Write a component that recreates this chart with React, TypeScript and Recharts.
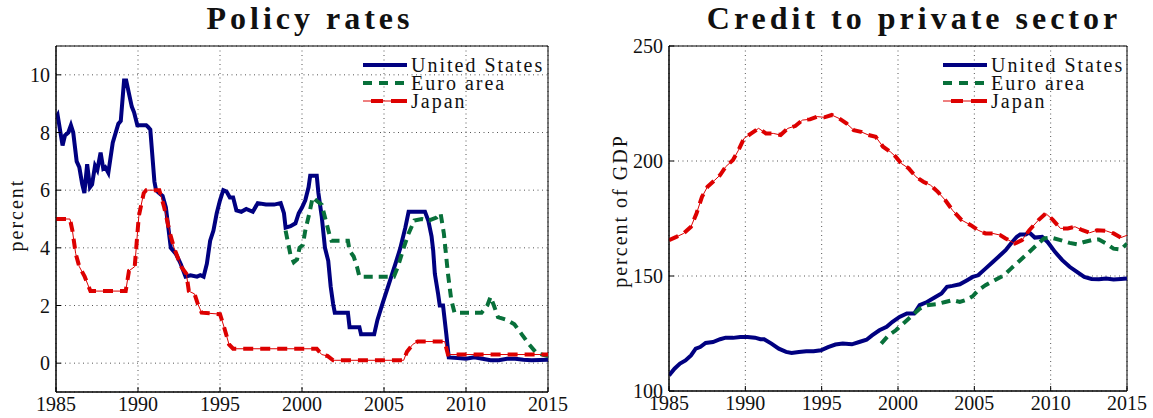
import React from 'react';
import { LineChart, Line, XAxis, YAxis, CartesianGrid, ReferenceArea } from 'recharts';

type Pt = [number, number]; // [year, value]

const yearTicks = [1985, 1990, 1995, 2000, 2005, 2010, 2015];
const rateTicks = [0, 2, 4, 6, 8, 10];
const creditTicks = [100, 150, 200, 250];
const seriesNames = ['United States', 'Euro area', 'Japan'];

// Policy rates, percent
const usRate: Pt[] = [
  [1985.0, 8.5], [1985.1, 8.6], [1985.4, 7.55], [1985.55, 7.9], [1985.75, 8.0], [1985.91, 8.25],
  [1986.05, 8.0], [1986.26, 7.0], [1986.42, 6.8], [1986.6, 6.2], [1986.73, 5.9], [1986.9, 6.9],
  [1987.07, 6.1], [1987.2, 6.2], [1987.38, 6.85], [1987.52, 6.7], [1987.72, 7.3], [1987.88, 6.75],
  [1988.0, 6.8], [1988.19, 6.6], [1988.46, 7.65], [1988.8, 8.3], [1988.95, 8.4], [1989.15, 9.8],
  [1989.28, 9.8], [1989.62, 8.9], [1989.76, 8.7], [1989.96, 8.25], [1990.5, 8.25], [1990.6, 8.2],
  [1990.75, 8.1], [1991.0, 6.3], [1991.1, 6.0], [1991.28, 5.9], [1991.5, 5.8], [1991.7, 5.4],
  [1992.0, 4.0], [1992.3, 3.8], [1992.6, 3.45], [1992.9, 3.0], [1993.2, 3.05], [1993.6, 3.0],
  [1993.8, 3.05], [1994.0, 3.0], [1994.2, 3.45], [1994.4, 4.25], [1994.6, 4.6], [1994.8, 5.2],
  [1995.0, 5.65], [1995.2, 6.0], [1995.4, 5.95], [1995.6, 5.75], [1995.8, 5.75], [1996.0, 5.3],
  [1996.3, 5.25], [1996.6, 5.35], [1997.0, 5.25], [1997.3, 5.55], [1997.8, 5.5], [1998.3, 5.5],
  [1998.7, 5.55], [1998.9, 5.2], [1999.0, 4.7], [1999.3, 4.75], [1999.6, 4.85], [1999.8, 5.2],
  [2000.0, 5.4], [2000.2, 5.65], [2000.4, 6.1], [2000.5, 6.5], [2000.9, 6.5], [2001.0, 5.9],
  [2001.2, 5.1], [2001.4, 4.0], [2001.6, 3.55], [2001.75, 2.65], [2001.9, 2.05], [2002.0, 1.75],
  [2002.8, 1.75], [2002.9, 1.25], [2003.5, 1.25], [2003.6, 1.0], [2004.4, 1.0], [2004.6, 1.5],
  [2004.9, 2.05], [2005.3, 2.75], [2005.7, 3.45], [2006.0, 4.0], [2006.3, 4.7], [2006.5, 5.25],
  [2007.5, 5.25], [2007.7, 4.95], [2007.9, 4.4], [2008.0, 3.9], [2008.1, 3.1], [2008.3, 2.4],
  [2008.4, 2.0], [2008.6, 2.0], [2008.8, 1.0], [2008.95, 0.2], [2009.5, 0.18], [2010.0, 0.15],
  [2010.5, 0.2], [2011.0, 0.15], [2011.5, 0.1], [2012.0, 0.1], [2012.5, 0.15], [2013.0, 0.15],
  [2013.5, 0.12], [2014.0, 0.1], [2015.0, 0.12],
];

const euroRate: Pt[] = [
  [1999.0, 4.6], [1999.3, 3.75], [1999.5, 3.5], [1999.7, 3.6], [1999.85, 4.0], [2000.05, 4.1],
  [2000.2, 4.6], [2000.45, 5.2], [2000.65, 5.75], [2000.85, 5.65], [2001.2, 5.5], [2001.45, 4.95],
  [2001.7, 4.4], [2001.8, 4.25], [2002.8, 4.25], [2002.9, 3.9], [2003.15, 3.7], [2003.35, 3.35],
  [2003.5, 3.0], [2005.6, 3.0], [2005.85, 3.35], [2006.2, 4.0], [2006.5, 4.5], [2006.85, 4.95],
  [2007.3, 5.0], [2007.75, 4.95], [2008.2, 5.05], [2008.45, 5.2], [2008.65, 4.5], [2008.9, 3.1],
  [2009.1, 2.2], [2009.3, 1.75], [2010.95, 1.75], [2011.3, 2.0], [2011.5, 2.3], [2011.7, 2.0],
  [2011.95, 1.6], [2012.5, 1.5], [2012.95, 1.35], [2013.4, 1.0], [2013.85, 0.65], [2014.3, 0.35],
  [2015.0, 0.25],
];

const japanRate: Pt[] = [
  [1985.0, 5.0], [1985.85, 5.0], [1986.0, 4.6], [1986.2, 3.8], [1986.42, 3.35], [1986.75, 3.0],
  [1987.1, 2.5], [1989.25, 2.5], [1989.45, 3.2], [1989.8, 3.35], [1990.05, 5.1], [1990.35, 5.9],
  [1990.5, 6.0], [1991.3, 6.0], [1991.6, 5.4], [1991.95, 4.5], [1992.2, 4.0], [1992.4, 3.7],
  [1992.63, 3.35], [1992.95, 3.1], [1993.1, 2.5], [1993.45, 2.4], [1993.65, 2.05], [1993.88, 1.75],
  [1995.0, 1.7], [1995.25, 1.25], [1995.55, 0.65], [1995.8, 0.5], [2000.9, 0.5], [2001.2, 0.3],
  [2001.55, 0.25], [2001.9, 0.1], [2006.2, 0.1], [2006.4, 0.4], [2006.75, 0.65], [2007.05, 0.75],
  [2008.7, 0.75], [2008.9, 0.3], [2015.0, 0.3],
];

// Credit to private sector, percent of GDP
const usCredit: Pt[] = [
  [1985.0, 106.8], [1985.36, 109.7], [1985.72, 111.9], [1986.08, 113.3], [1986.44, 115.5],
  [1986.75, 118.4], [1987.04, 119.1], [1987.4, 120.9], [1987.88, 121.3], [1988.35, 122.5],
  [1988.71, 123.2], [1989.19, 123.1], [1989.67, 123.5], [1990.15, 123.5], [1990.63, 123.2],
  [1990.99, 122.5], [1991.23, 122.5], [1991.71, 120.6], [1992.19, 118.4], [1992.67, 117.0],
  [1993.03, 116.5], [1993.51, 117.0], [1993.99, 117.3], [1994.47, 117.3], [1994.95, 117.7],
  [1995.42, 119.1], [1995.9, 120.2], [1996.38, 120.6], [1996.98, 120.3], [1997.46, 121.3],
  [1997.94, 122.3], [1998.3, 124.2], [1998.78, 126.4], [1999.26, 127.9], [1999.62, 130.0],
  [2000.1, 132.2], [2000.58, 133.7], [2001.06, 133.7], [2001.42, 137.3], [2001.9, 138.7],
  [2002.37, 140.5], [2002.85, 142.4], [2003.21, 145.3], [2003.57, 145.7], [2004.05, 146.4],
  [2004.53, 148.2], [2004.89, 149.6], [2005.25, 150.3], [2005.73, 153.2], [2006.21, 156.1],
  [2006.69, 159.0], [2007.05, 161.2], [2007.4, 164.1], [2007.77, 167.0], [2008.0, 168.0],
  [2008.36, 168.0], [2008.6, 168.9], [2008.96, 166.7], [2009.44, 167.0], [2009.8, 164.8],
  [2010.28, 160.5], [2010.76, 156.9], [2011.24, 154.0], [2011.72, 151.8], [2012.2, 149.6],
  [2012.68, 148.7], [2013.16, 148.6], [2013.64, 148.9], [2014.12, 148.5], [2014.6, 148.7],
  [2015.0, 148.9],
];

const euroCredit: Pt[] = [
  [1998.9, 120.6], [1999.38, 124.2], [1999.86, 126.4], [2000.46, 130.0], [2000.94, 132.9],
  [2001.42, 135.8], [2001.9, 137.3], [2002.49, 137.7], [2003.09, 138.7], [2003.57, 139.5],
  [2004.05, 138.7], [2004.53, 139.8], [2004.89, 141.2], [2005.25, 143.8], [2005.73, 146.0],
  [2006.33, 148.2], [2006.93, 150.3], [2007.4, 153.2], [2007.88, 156.1], [2008.36, 159.0],
  [2008.96, 162.7], [2009.56, 166.3], [2010.04, 166.7], [2010.64, 165.6], [2011.24, 164.4],
  [2011.72, 163.8], [2012.2, 164.8], [2012.68, 165.6], [2013.16, 165.9], [2013.64, 164.1],
  [2014.12, 161.9], [2014.6, 161.5], [2015.0, 164.1],
];

const japanCredit: Pt[] = [
  [1985.0, 165.6], [1985.48, 167.0], [1985.96, 168.5], [1986.44, 171.4], [1986.8, 177.2],
  [1987.16, 184.4], [1987.52, 188.8], [1988.0, 191.7], [1988.35, 193.9], [1988.71, 197.5],
  [1989.19, 200.4], [1989.55, 204.7], [1989.91, 209.8], [1990.39, 212.0], [1990.87, 214.2],
  [1991.35, 212.0], [1991.83, 212.0], [1992.31, 211.3], [1992.79, 214.2], [1993.27, 215.2],
  [1993.75, 217.8], [1994.23, 218.1], [1994.7, 219.3], [1995.18, 219.0], [1995.66, 220.0],
  [1996.14, 218.5], [1996.62, 216.4], [1997.1, 213.4], [1997.58, 212.7], [1998.06, 211.3],
  [1998.54, 210.5], [1999.02, 206.2], [1999.5, 204.0], [1999.86, 201.8], [2000.22, 198.9],
  [2000.7, 196.8], [2001.18, 193.1], [2001.66, 191.0], [2002.13, 189.5], [2002.61, 186.6],
  [2003.09, 183.0], [2003.57, 178.6], [2004.17, 174.3], [2004.77, 172.1], [2005.25, 169.9],
  [2005.73, 168.5], [2006.21, 168.5], [2006.69, 167.8], [2007.05, 166.3], [2007.65, 164.1],
  [2008.12, 165.6], [2008.6, 169.9], [2009.2, 174.3], [2009.68, 177.2], [2010.16, 174.3],
  [2010.64, 170.7], [2011.12, 170.7], [2011.6, 171.4], [2012.08, 169.9], [2012.56, 168.8],
  [2013.04, 169.9], [2013.64, 169.6], [2014.12, 168.5], [2014.6, 166.7], [2015.0, 167.7],
];

const SERIF = '"Liberation Serif", "Times New Roman", serif';
const US_COLOR = '#000080';
const EURO_COLOR = '#08703a';
const JAPAN_COLOR = '#dd0000';
const GRID_COLOR = '#555';

const toRows = (pts: Pt[]) => pts.map(([year, value]) => ({ year, value }));

const LegendBox = ({ left }: { left: number }) => {
  const row = (name: string, sample: React.ReactNode) => (
    <div key={name} style={{ display: 'flex', alignItems: 'center', height: 18 }}>
      <svg width={44} height={18} style={{ flex: 'none' }}>{sample}</svg>
      <span
        style={{
          display: 'inline-block',
          height: 18,
          lineHeight: '18px',
          marginLeft: 4,
          overflow: 'visible',
        }}
      >
        {name}
      </span>
    </div>
  );
  return (
    <div
      style={{
        position: 'absolute',
        left,
        top: 56,
        fontFamily: SERIF,
        fontSize: 20,
        letterSpacing: 2,
        whiteSpace: 'nowrap',
        color: '#111',
      }}
    >
      {row(seriesNames[0], <line x1={0} y1={9} x2={44} y2={9} stroke={US_COLOR} strokeWidth={4} />)}
      {row(
        seriesNames[1],
        <line x1={0} y1={9} x2={44} y2={9} stroke={EURO_COLOR} strokeWidth={4} strokeDasharray="9 7" />
      )}
      {row(
        seriesNames[2],
        <g>
          <line x1={0} y1={9} x2={44} y2={9} stroke={JAPAN_COLOR} strokeWidth={1} />
          <line x1={0} y1={9} x2={44} y2={9} stroke={JAPAN_COLOR} strokeWidth={4} strokeDasharray="0 8 12 8 12" />
        </g>
      )}
    </div>
  );
};

interface PanelProps {
  left: number;
  width: number;
  title: string;
  titleCenter: number;
  yLabel: string;
  yLabelX: number;
  yLabelY: number;
  plotLeft: number;
  plotRight: number;
  xAxisHeight: number;
  yDomain: [number, number];
  yTicks: number[];
  us: Pt[];
  euro: Pt[];
  japan: Pt[];
  legendLeft: number;
}

const Panel = (p: PanelProps) => {
  const tickStyle = { fontSize: 20, fontFamily: SERIF, fill: '#111' };
  return (
    <div style={{ position: 'absolute', left: p.left, top: 0, width: p.width, height: 418 }}>
      <div
        style={{
          position: 'absolute',
          left: p.titleCenter - 300,
          top: 2,
          width: 600,
          textAlign: 'center',
          fontFamily: SERIF,
          fontWeight: 'bold',
          fontSize: 32,
          lineHeight: '32px',
          letterSpacing: 4,
          color: '#111',
        }}
      >
        {p.title}
      </div>
      <div
        style={{
          position: 'absolute',
          left: p.yLabelX,
          top: p.yLabelY,
          transform: 'translate(-50%, -50%) rotate(-90deg)',
          fontFamily: SERIF,
          fontSize: 20,
          lineHeight: '20px',
          letterSpacing: 2,
          whiteSpace: 'nowrap',
          color: '#111',
        }}
      >
        {p.yLabel}
      </div>
      <LineChart
        width={p.width}
        height={418}
        margin={{ top: 46, right: p.width - p.plotRight, bottom: 0, left: p.plotLeft - 40 }}
      >
        <CartesianGrid stroke={GRID_COLOR} strokeDasharray="1 3.5" />
        <XAxis
          dataKey="year"
          type="number"
          domain={[1985, 2015]}
          ticks={yearTicks}
          allowDataOverflow
          height={p.xAxisHeight}
          tickSize={-5}
          tickMargin={10}
          tick={tickStyle}
          stroke="#000"
          interval={0}
        />
        <YAxis
          type="number"
          domain={p.yDomain}
          ticks={p.yTicks}
          allowDataOverflow
          width={40}
          tickSize={-5}
          tickMargin={11}
          tick={tickStyle}
          stroke="#000"
          interval={0}
        />
        <ReferenceArea
          x1={1985}
          x2={2015}
          y1={p.yDomain[0]}
          y2={p.yDomain[1]}
          fill="none"
          stroke="#000"
          strokeWidth={1}
        />
        <Line
          data={toRows(p.us)}
          dataKey="value"
          name={seriesNames[0]}
          type="linear"
          dot={false}
          stroke={US_COLOR}
          strokeWidth={4}
          isAnimationActive={false}
        />
        <Line
          data={toRows(p.euro)}
          dataKey="value"
          name={seriesNames[1]}
          type="linear"
          dot={false}
          stroke={EURO_COLOR}
          strokeWidth={4}
          strokeDasharray="9 6"
          isAnimationActive={false}
        />
        <Line
          data={toRows(p.japan)}
          dataKey="value"
          name={seriesNames[2] + ' thin'}
          type="linear"
          dot={false}
          stroke={JAPAN_COLOR}
          strokeWidth={1}
          isAnimationActive={false}
        />
        <Line
          data={toRows(p.japan)}
          dataKey="value"
          name={seriesNames[2]}
          type="linear"
          dot={false}
          stroke={JAPAN_COLOR}
          strokeWidth={4}
          strokeDasharray="10 7"
          isAnimationActive={false}
        />
      </LineChart>
      <LegendBox left={p.legendLeft} />
    </div>
  );
};

export default function App() {
  return (
    <div style={{ position: 'absolute', left: 0, top: 0, width: 1153, height: 418, background: '#fff' }}>
      <Panel
        left={0}
        width={580}
        title="Policy rates"
        titleCenter={310}
        yLabel="percent"
        yLabelX={16}
        yLabelY={215}
        plotLeft={56}
        plotRight={548}
        xAxisHeight={26}
        yDomain={[-1, 11]}
        yTicks={rateTicks}
        us={usRate}
        euro={euroRate}
        japan={japanRate}
        legendLeft={363}
      />
      <Panel
        left={580}
        width={573}
        title="Credit to private sector"
        titleCenter={334}
        yLabel="percent of GDP"
        yLabelX={40}
        yLabelY={211}
        plotLeft={89}
        plotRight={547}
        xAxisHeight={27}
        yDomain={[100, 250]}
        yTicks={creditTicks}
        us={usCredit}
        euro={euroCredit}
        japan={japanCredit}
        legendLeft={363}
      />
    </div>
  );
}
